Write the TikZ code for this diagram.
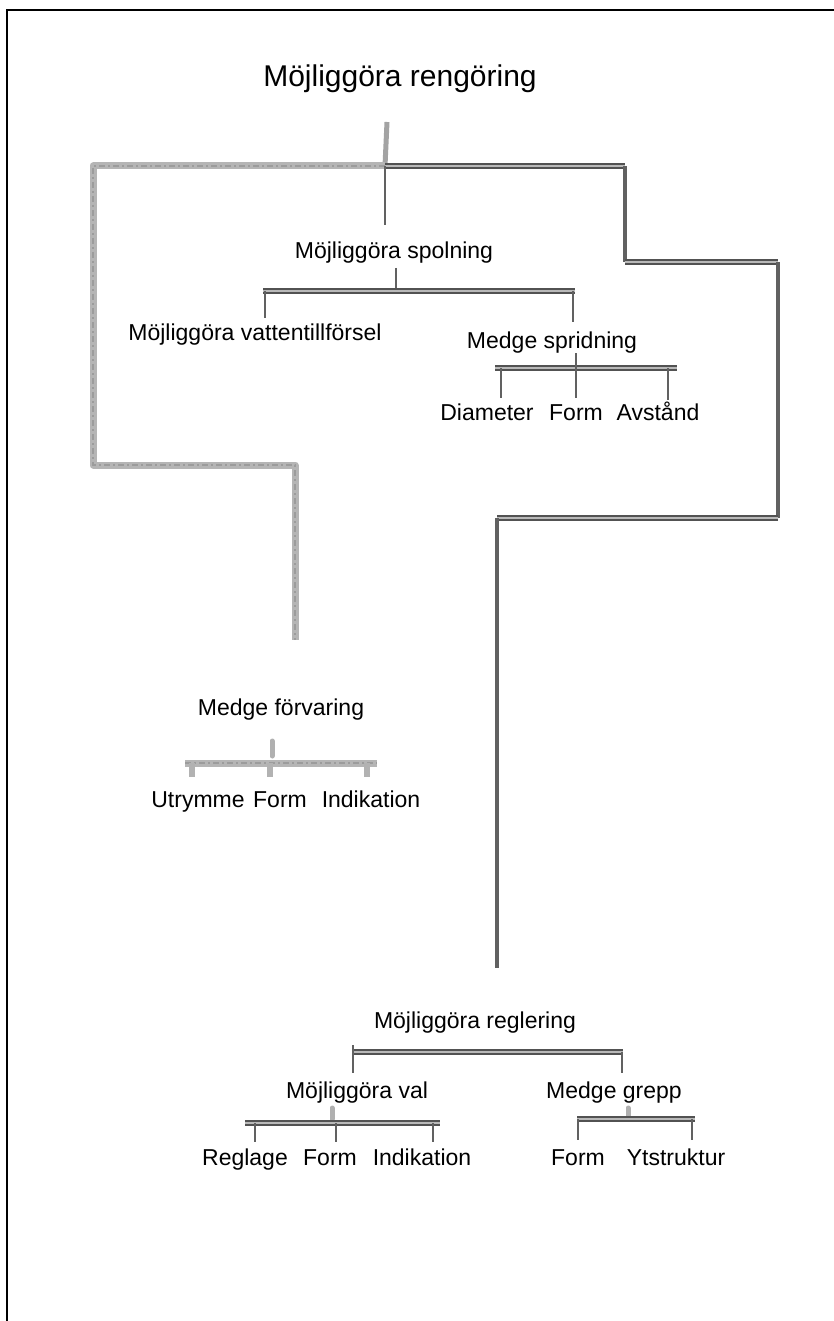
\documentclass[tikz,border=0pt]{standalone}
\usepackage{fontspec}
\setmainfont{Liberation Sans}
\begin{document}
\begin{tikzpicture}[x=1pt,y=-1pt,
  lbl/.style={anchor=base,inner sep=0pt,font=\fontsize{23}{27}\selectfont},
  ttl/.style={anchor=base,inner sep=0pt,font=\fontsize{30}{36}\selectfont},
  pencil/.style={draw=gray!58,line width=7pt,line join=round},
  pencilgrain/.style={draw=gray!78,line width=1.6pt,dash pattern=on 6pt off 3pt on 2pt off 3pt},
  pencilsmall/.style={draw=gray!62,line width=5pt},
  inkbar/.style={draw=black!68,line width=1.9pt,double=gray!55,double distance=1.8pt},
  inkline/.style={draw=black!62,line width=3.2pt},
  tick/.style={draw=black!62,line width=2pt},
  frame/.style={draw=black,line width=2.5pt},
]
\useasboundingbox (0,0) rectangle (834,1321);
\fill[white] (0,0) rectangle (834,1321);
\draw[frame] (834,10) -- (7,10) -- (7,1321);

% ---------------- coordinates
\coordinate (rootS) at (387,122);
\coordinate (J) at (385,166);
\coordinate (LT) at (93,166);
\coordinate (LB) at (93,465);
\coordinate (LR) at (295,465);
\coordinate (LE) at (295,640);
\coordinate (RT) at (625,166);
\coordinate (RA) at (625,262);
\coordinate (RB) at (778,262);
\coordinate (RC) at (778,518);
\coordinate (RD) at (497,518);
\coordinate (RE) at (497,968);
\coordinate (JS) at (385,225);

% ---------------- texts
\node[ttl] (root) at (400,87) {Möjliggöra rengöring};
\node[lbl] (spol) at (394,259) {Möjliggöra spolning};
\node[lbl] (vatten) at (255,340) {Möjliggöra vattentillförsel};
\node[lbl] (sprid) at (552,348) {Medge spridning};
\node[lbl] (diam) at (487,420) {Diameter};
\node[lbl] (sform) at (576,420) {Form};
\node[lbl] (avst) at (658,420) {Avstånd};
\node[lbl] (forv) at (281,715) {Medge förvaring};
\node[lbl] (utr) at (198,807) {Utrymme};
\node[lbl] (fform) at (280,807) {Form};
\node[lbl] (find) at (371,807) {Indikation};
\node[lbl] (regl) at (475,1028) {Möjliggöra reglering};
\node[lbl] (val) at (357,1098) {Möjliggöra val};
\node[lbl] (grepp) at (614,1098) {Medge grepp};
\node[lbl] (regla) at (245,1165) {Reglage};
\node[lbl] (vform) at (330,1165) {Form};
\node[lbl] (vind) at (422,1165) {Indikation};
\node[lbl] (gform) at (578,1165) {Form};
\node[lbl] (ytst) at (676,1165) {Ytstruktur};

% ---------------- root level
\draw[pencilsmall,draw=gray!72] (rootS) -- (J);
\draw[pencil] (J) -- (LT) -- (LB) -- (LR) -- (LE);
\draw[pencilgrain] (J) -- (LT) -- (LB) -- (LR) -- (LE);
\draw[inkbar] (J) -- (RT);
\draw[inkline] (RT) -- (RA);
\draw[inkbar] (RA) -- (RB);
\draw[inkline] (RB) -- (RC);
\draw[inkbar] (RC) -- (RD);
\draw[inkline] (RD) -- (RE);
\draw[tick] (J) -- (JS);

% ---------------- spolning
\coordinate (s1) at (396,268);
\coordinate (s2) at (396,291);
\coordinate (sL) at (263,291);
\coordinate (sR) at (575,291);
\draw[tick] (s1) -- (s2);
\draw[inkbar] (sL) -- (sR);
\draw[tick] (265,291) -- (265,318);
\draw[tick] (573,291) -- (573,322);

% ---------------- spridning
\coordinate (p1) at (576,353);
\coordinate (pL) at (495,368);
\coordinate (pR) at (677,368);
\draw[inkbar] (pL) -- (pR);
\draw[tick] (p1) -- (576,398);
\draw[tick] (501,368) -- (501,398);
\draw[tick] (668,368) -- (668,400);

% ---------------- förvaring
\draw[pencilsmall, line cap=round] (272,741) -- (272,756);
\draw[pencil] (185,763) -- (377,763);
\draw[pencilgrain] (185,763) -- (377,763);
\draw[draw=gray!60,line width=5.5pt] (192,763) -- (192,777);
\draw[draw=gray!60,line width=5.5pt] (270,763) -- (270,777);
\draw[draw=gray!60,line width=5.5pt] (367,763) -- (367,777);

% ---------------- reglering
\draw[inkbar] (353,1052) -- (623,1052);
\draw[tick] (353,1045) -- (353,1073);
\draw[tick] (622,1052) -- (622,1073);

% ---------------- val
\draw[pencilsmall, line cap=round] (332,1108) -- (332,1119);
\draw[inkbar] (245,1123) -- (440,1123);
\draw[tick] (255,1123) -- (255,1142);
\draw[tick] (336,1123) -- (336,1142);
\draw[tick] (433,1123) -- (433,1142);

% ---------------- grepp
\draw[pencilsmall, line cap=round] (628,1108) -- (628,1116);
\draw[inkbar] (577,1119) -- (695,1119);
\draw[tick] (578,1119) -- (578,1140);
\draw[tick] (692,1119) -- (692,1140);
\end{tikzpicture}
\end{document}
